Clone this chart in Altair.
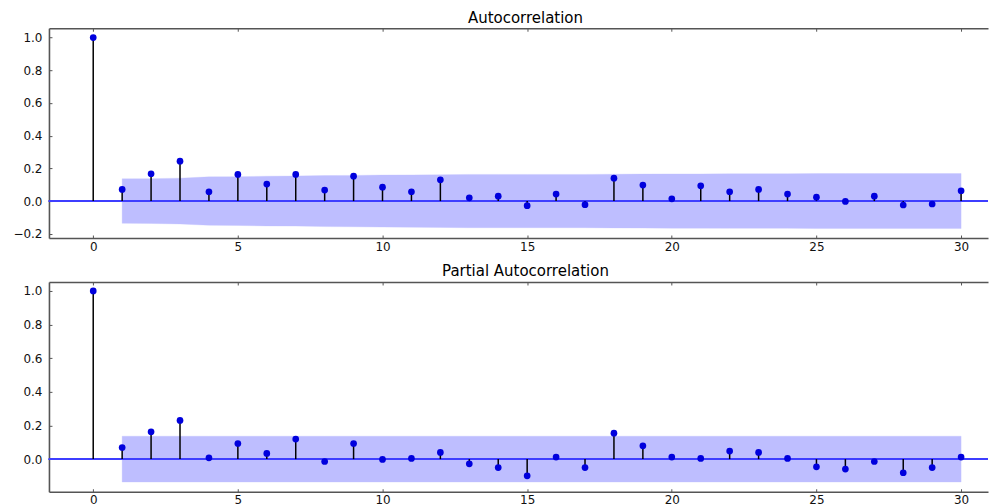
import altair as alt
import pandas as pd

lags = list(range(31))

acf_values = [1.0, 0.071, 0.167, 0.244, 0.057, 0.163, 0.104, 0.163, 0.067, 0.152,
              0.085, 0.057, 0.130, 0.020, 0.030, -0.028, 0.043, -0.022, 0.140, 0.098,
              0.014, 0.093, 0.057, 0.071, 0.043, 0.024, -0.002, 0.030, -0.024, -0.018,
              0.063]
# upper edge of the confidence band, lags 1..30 (band is symmetric about zero)
acf_conf = [0.136, 0.137, 0.140, 0.148, 0.149, 0.152, 0.153, 0.156, 0.157, 0.159,
            0.160, 0.161, 0.163, 0.163, 0.163, 0.163, 0.163, 0.164, 0.165, 0.166,
            0.166, 0.167, 0.167, 0.167, 0.168, 0.168, 0.168, 0.168, 0.168, 0.168]

pacf_values = [1.0, 0.069, 0.162, 0.230, 0.008, 0.093, 0.034, 0.119, -0.014, 0.093,
               -0.002, 0.004, 0.040, -0.028, -0.050, -0.099, 0.012, -0.050, 0.154, 0.079,
               0.012, 0.004, 0.048, 0.040, 0.004, -0.046, -0.059, -0.014, -0.081, -0.050,
               0.012]
pacf_conf = [0.136, 0.136, 0.136, 0.136, 0.136, 0.136, 0.136, 0.136, 0.136, 0.136,
             0.136, 0.136, 0.136, 0.136, 0.136, 0.136, 0.136, 0.136, 0.136, 0.136,
             0.136, 0.136, 0.136, 0.136, 0.136, 0.136, 0.136, 0.136, 0.136, 0.136]

x_ticks = [0, 5, 10, 15, 20, 25, 30]
acf_y_ticks = [-0.2, 0.0, 0.2, 0.4, 0.6, 0.8, 1.0]
pacf_y_ticks = [0.0, 0.2, 0.4, 0.6, 0.8, 1.0]

FRAME = "#555555"
W, H = 940, 210


def panel(title, values, conf, ydomain, yticks):
    df = pd.DataFrame({"lag": lags, "value": values, "zero": [0.0] * len(lags)})
    band = pd.DataFrame({"lag": lags[1:], "upper": conf, "lower": [-c for c in conf]})

    xscale = alt.Scale(domain=[-1.53, 30.93], nice=False, zero=False)
    yscale = alt.Scale(domain=ydomain, nice=False, zero=False)

    yaxis = alt.Axis(values=yticks, format=".1f", tickSize={"expr": "-3"},
                     labelPadding=10, minExtent=41, maxExtent=41, title=None,
                     orient="left")
    xaxis_bottom = alt.Axis(values=x_ticks, format="d", tickSize={"expr": "-3"},
                            labelPadding=6, title=None, orient="bottom")
    xaxis_top = alt.Axis(values=x_ticks, tickSize={"expr": "-3"}, labels=False,
                         title=None, orient="top")

    band_layer = alt.Chart(band).mark_area(
        color="#0000ff", opacity=0.25, stroke="#0000ff", strokeOpacity=0.3, strokeWidth=1
    ).encode(
        x=alt.X("lag:Q", scale=xscale, axis=xaxis_top),
        y=alt.Y("lower:Q", scale=yscale, axis=yaxis),
        y2="upper:Q",
    )
    zero_line = alt.Chart(df).mark_rule(color="#3f3fff", strokeWidth=1).encode(
        y=alt.Y("zero:Q", scale=yscale, axis=yaxis)
    )
    stems = alt.Chart(df).mark_rule(color="#000000", strokeWidth=1.5).encode(
        x=alt.X("lag:Q", scale=xscale, axis=None),
        y=alt.Y("zero:Q", scale=yscale, axis=yaxis),
        y2="value:Q",
    )
    points = alt.Chart(df).mark_point(
        filled=True, shape="circle", size=45, color="#0000dd", opacity=1
    ).encode(
        x=alt.X("lag:Q", scale=xscale, axis=xaxis_bottom),
        y=alt.Y("value:Q", scale=yscale, axis=yaxis),
    )
    return alt.layer(band_layer, zero_line, stems, points).resolve_axis(
        x="independent"
    ).properties(
        width=W, height=H,
        title=alt.TitleParams(title, fontSize=15, font="DejaVu Sans",
                              fontWeight="normal", color="#000000",
                              anchor="middle", dx=7, offset=2),
    )


top = panel("Autocorrelation", acf_values, acf_conf, [-0.226, 1.057], acf_y_ticks)
bottom = panel("Partial Autocorrelation", pacf_values, pacf_conf, [-0.194, 1.053], pacf_y_ticks)

chart = alt.vconcat(top, bottom, spacing=12).properties(
    padding={"top": 2, "left": 0, "right": 0, "bottom": 0}
).configure_view(
    stroke=None
).configure_axis(
    labelFont="DejaVu Sans", labelFontSize=12, labelColor="#111111",
    domainColor=FRAME, domainWidth=1.6, tickColor=FRAME, tickWidth=1, grid=False,
)

chart.save("out.html", embed_options={"renderer": "svg", "actions": False})
